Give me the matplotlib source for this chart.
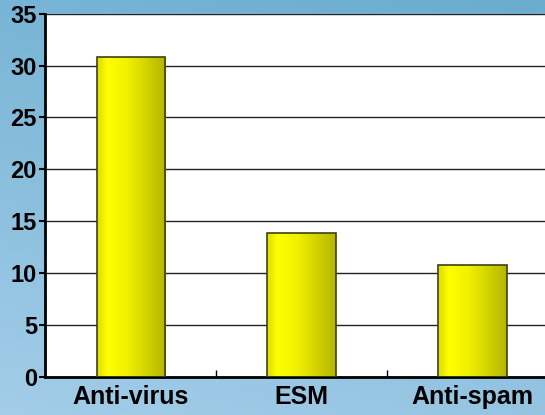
import matplotlib.pyplot as plt
import numpy as np
from matplotlib.colors import LinearSegmentedColormap

categories = ['Anti-virus', 'ESM', 'Anti-spam']
values = [30.8, 13.9, 10.8]
yticks = [0, 5, 10, 15, 20, 25, 30, 35]

plt.rcParams['font.family'] = ['Liberation Sans', 'DejaVu Sans']

fig = plt.figure(figsize=(5.45, 4.15), dpi=100)

# background blue gradient
bg = fig.add_axes([0, 0, 1, 1], zorder=-10)
yy, xx = np.mgrid[0:1:200j, 0:1:200j]
g = 0.75 * yy + 0.25 * (1 - xx)
bg_cmap = LinearSegmentedColormap.from_list('bg', ['#6aaccf', '#a3cde8'])
bg.imshow(g, cmap=bg_cmap, aspect='auto', extent=[0, 1, 0, 1], origin='upper')
bg.axis('off')

ax = fig.add_axes([0.083, 0.092, 0.941, 0.875])
ax.set_facecolor('white')
x = np.arange(len(categories))
bars = ax.bar(x, values, width=0.4, color='none', edgecolor='#404010', linewidth=1.2, zorder=3)

bar_cmap = LinearSegmentedColormap.from_list(
    'bar', [(0, '#e0e000'), (0.06, '#e8e800'), (0.15, '#ffff00'), (0.45, '#f0f000'), (1, '#b5b500')])
grad = np.linspace(0, 1, 256).reshape(1, -1)
for b in bars:
    im = ax.imshow(grad, cmap=bar_cmap, aspect='auto', zorder=2,
                   extent=[b.get_x(), b.get_x() + b.get_width(), 0, b.get_height()])
    im.set_clip_path(b)

ax.set_xlim(-0.5, len(categories) - 0.5)
ax.set_ylim(0, 35)
ax.set_yticks(yticks)
ax.set_xticks(x)
ax.set_xticklabels(categories, fontsize=18, fontweight='bold')
ax.set_yticklabels([str(t) for t in yticks], fontsize=17, fontweight='bold')
ax.set_xticks([0.5, 1.5], minor=True)
ax.tick_params(axis='x', which='major', length=0, pad=6)
ax.tick_params(axis='x', which='minor', direction='in', length=5, width=1)
ax.tick_params(axis='y', length=4, width=1.5, pad=2)
ax.grid(axis='y', color='#222222', linewidth=1, zorder=1)
ax.set_axisbelow(True)
for s in ['top', 'right']:
    ax.spines[s].set_visible(False)
ax.spines['left'].set_linewidth(2)
ax.spines['bottom'].set_linewidth(2)

fig.savefig('out.png', dpi=100)
